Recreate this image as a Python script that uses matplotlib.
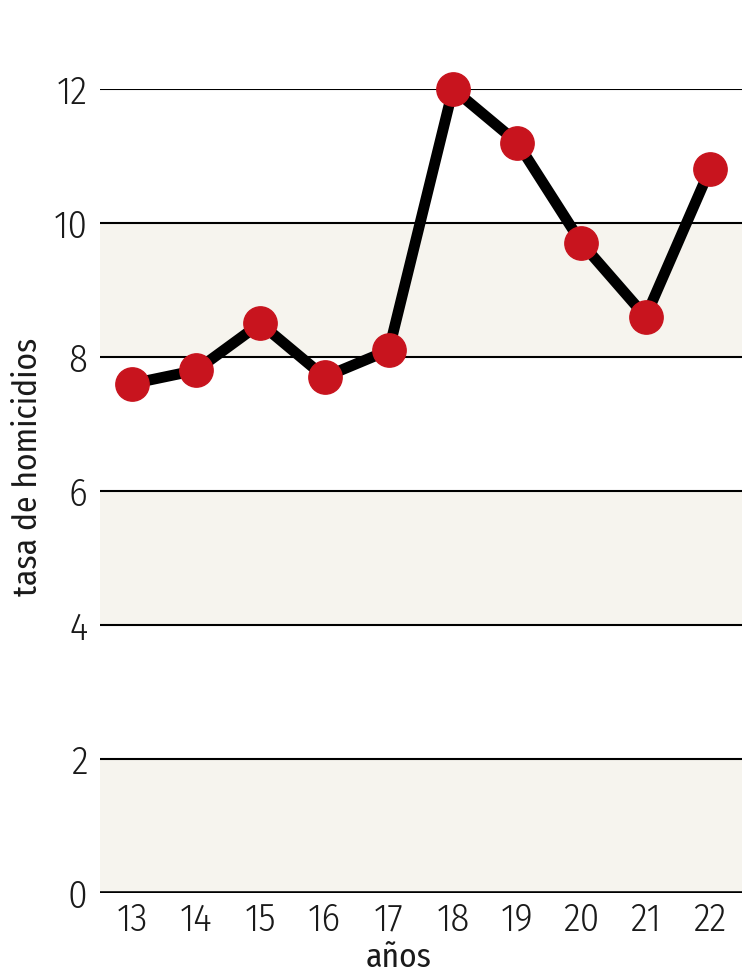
import matplotlib.pyplot as plt
import matplotlib.font_manager as fm

# data
years = [13, 14, 15, 16, 17, 18, 19, 20, 21, 22]
rate = [7.6, 7.8, 8.5, 7.7, 8.1, 12.0, 11.2, 9.7, 8.6, 10.8]
yticks = [0, 2, 4, 6, 8, 10, 12]
bands = [(0, 2), (4, 6), (8, 10)]

# the original uses a light condensed sans
names = {f.name for f in fm.fontManager.ttflist}
family = "DejaVu Sans"
for n in ["Fira Sans Condensed", "Barlow Condensed", "Encode Sans Condensed"]:
    if n in names:
        family = n
        break
plt.rcParams["font.family"] = [family, "DejaVu Sans"]
plt.rcParams["font.weight"] = 300

fig = plt.figure(figsize=(7.45, 9.77), dpi=100)
ax = fig.add_axes([0.134, 0.086, 0.862, 0.823])

# shaded bands
for lo, hi in bands:
    ax.axhspan(lo, hi, color="#f6f4ee", zorder=0, lw=0)

# horizontal rules
for t in yticks:
    ax.axhline(t, color="black", lw=2.6 if t == 0 else 1.5, zorder=1)

ax.plot(years, rate, color="black", lw=7.8, zorder=2, clip_on=False)
ax.plot(years, rate, "o", color="#c8141e", markersize=24, zorder=3,
        clip_on=False)

ax.set_xlim(12.5, 22.5)
ax.set_ylim(0, 12)
ax.set_xticks(years)
ax.set_xticklabels([str(y) for y in years])
ax.set_yticks(yticks)
ax.tick_params(length=0, labelsize=28, colors="#1a1a1a")
ax.tick_params(axis="y", pad=9)
ax.tick_params(axis="x", pad=6)
for s in ax.spines.values():
    s.set_visible(False)

ax.set_ylabel("tasa de homicidios", fontsize=24, color="#1a1a1a")
ax.yaxis.set_label_coords(-0.088, 0.53)
ax.set_xlabel("años", fontsize=24, color="#1a1a1a")
ax.xaxis.set_label_coords(0.465, -0.061)

plt.savefig("out.png", dpi=100)
